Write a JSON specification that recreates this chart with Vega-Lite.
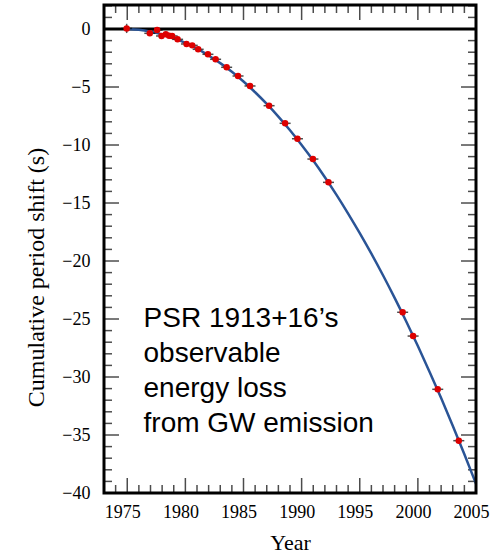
{
  "$schema": "https://vega.github.io/schema/vega-lite/v6.json",
  "width": 372,
  "height": 488,
  "autosize": {"type": "none"},
  "padding": {"left": 104, "top": 5, "right": 24, "bottom": 62},
  "background": "white",
  "config": {
    "view": {"stroke": null},
    "axis": {
      "domain": false,
      "grid": false,
      "ticks": false,
      "labelFont": "Liberation Serif",
      "labelFontSize": 18,
      "labelColor": "black",
      "labelFlush": false,
      "labelOverlap": false,
      "titleFont": "Liberation Serif",
      "titleFontWeight": "normal",
      "titleColor": "black"
    }
  },
  "datasets": {
    "pts": [
      {"year": 1974.95, "shift": 0.05, "hi": 0.45, "lo": -0.35},
      {"year": 1976.94, "shift": -0.37},
      {"year": 1977.57, "shift": -0.09},
      {"year": 1977.95, "shift": -0.6},
      {"year": 1978.32, "shift": -0.46},
      {"year": 1978.6, "shift": -0.58},
      {"year": 1978.86, "shift": -0.6},
      {"year": 1979.33, "shift": -0.89},
      {"year": 1980.1, "shift": -1.29},
      {"year": 1980.59, "shift": -1.41},
      {"year": 1981.1, "shift": -1.75},
      {"year": 1981.94, "shift": -2.18},
      {"year": 1982.6, "shift": -2.61},
      {"year": 1983.55, "shift": -3.3},
      {"year": 1984.53, "shift": -4.05},
      {"year": 1985.56, "shift": -4.91},
      {"year": 1987.2, "shift": -6.61},
      {"year": 1988.58, "shift": -8.13},
      {"year": 1989.64, "shift": -9.46},
      {"year": 1990.97, "shift": -11.21},
      {"year": 1992.31, "shift": -13.22},
      {"year": 1998.69, "shift": -24.42},
      {"year": 1999.59, "shift": -26.47},
      {"year": 2001.71, "shift": -31.06},
      {"year": 2003.52, "shift": -35.49}
    ],
    "curve": [
      {"year": 1975, "shift": 0.0},
      {"year": 1976, "shift": -0.07},
      {"year": 1977, "shift": -0.23},
      {"year": 1978, "shift": -0.46},
      {"year": 1979, "shift": -0.79},
      {"year": 1980, "shift": -1.2},
      {"year": 1981, "shift": -1.69},
      {"year": 1982, "shift": -2.28},
      {"year": 1983, "shift": -2.94},
      {"year": 1984, "shift": -3.69},
      {"year": 1985, "shift": -4.53},
      {"year": 1986, "shift": -5.45},
      {"year": 1987, "shift": -6.46},
      {"year": 1988, "shift": -7.55},
      {"year": 1989, "shift": -8.73},
      {"year": 1990, "shift": -10.0},
      {"year": 1991, "shift": -11.34},
      {"year": 1992, "shift": -12.78},
      {"year": 1993, "shift": -14.3},
      {"year": 1994, "shift": -15.91},
      {"year": 1995, "shift": -17.6},
      {"year": 1996, "shift": -19.37},
      {"year": 1997, "shift": -21.23},
      {"year": 1998, "shift": -23.18},
      {"year": 1999, "shift": -25.21},
      {"year": 2000, "shift": -27.33},
      {"year": 2001, "shift": -29.54},
      {"year": 2002, "shift": -31.82},
      {"year": 2003, "shift": -34.2},
      {"year": 2004, "shift": -36.66},
      {"year": 2005, "shift": -39.2}
    ],
    "notes": [
      {"year": 1976.4, "shift": -25.7, "label": "PSR 1913+16’s"},
      {"year": 1976.4, "shift": -28.7, "label": "observable"},
      {"year": 1976.4, "shift": -31.7, "label": "energy loss"},
      {"year": 1976.4, "shift": -34.7, "label": "from GW emission"}
    ],
    "frame": [
      {"panel": "p", "x0": 1973, "x1": 2005, "y0": -40, "y1": 2.07, "zero": 0}
    ],
    "xt": [
      {"panel": "p", "year": 1973, "kind": "minor"}, {"panel": "p", "year": 1974, "kind": "minor"}, {"panel": "p", "year": 1975, "kind": "major"},
      {"panel": "p", "year": 1976, "kind": "minor"}, {"panel": "p", "year": 1977, "kind": "minor"}, {"panel": "p", "year": 1978, "kind": "minor"}, {"panel": "p", "year": 1979, "kind": "minor"}, {"panel": "p", "year": 1980, "kind": "major"},
      {"panel": "p", "year": 1981, "kind": "minor"}, {"panel": "p", "year": 1982, "kind": "minor"}, {"panel": "p", "year": 1983, "kind": "minor"}, {"panel": "p", "year": 1984, "kind": "minor"}, {"panel": "p", "year": 1985, "kind": "major"},
      {"panel": "p", "year": 1986, "kind": "minor"}, {"panel": "p", "year": 1987, "kind": "minor"}, {"panel": "p", "year": 1988, "kind": "minor"}, {"panel": "p", "year": 1989, "kind": "minor"}, {"panel": "p", "year": 1990, "kind": "major"},
      {"panel": "p", "year": 1991, "kind": "minor"}, {"panel": "p", "year": 1992, "kind": "minor"}, {"panel": "p", "year": 1993, "kind": "minor"}, {"panel": "p", "year": 1994, "kind": "minor"}, {"panel": "p", "year": 1995, "kind": "major"},
      {"panel": "p", "year": 1996, "kind": "minor"}, {"panel": "p", "year": 1997, "kind": "minor"}, {"panel": "p", "year": 1998, "kind": "minor"}, {"panel": "p", "year": 1999, "kind": "minor"}, {"panel": "p", "year": 2000, "kind": "major"},
      {"panel": "p", "year": 2001, "kind": "minor"}, {"panel": "p", "year": 2002, "kind": "minor"}, {"panel": "p", "year": 2003, "kind": "minor"}, {"panel": "p", "year": 2004, "kind": "minor"}, {"panel": "p", "year": 2005, "kind": "major"}
    ],
    "yt": [
      {"panel": "p", "shift": 2, "kind": "minor"}, {"panel": "p", "shift": 1, "kind": "minor"}, {"panel": "p", "shift": 0, "kind": "major"},
      {"panel": "p", "shift": -1, "kind": "minor"}, {"panel": "p", "shift": -2, "kind": "minor"}, {"panel": "p", "shift": -3, "kind": "minor"}, {"panel": "p", "shift": -4, "kind": "minor"}, {"panel": "p", "shift": -5, "kind": "major"},
      {"panel": "p", "shift": -6, "kind": "minor"}, {"panel": "p", "shift": -7, "kind": "minor"}, {"panel": "p", "shift": -8, "kind": "minor"}, {"panel": "p", "shift": -9, "kind": "minor"}, {"panel": "p", "shift": -10, "kind": "major"},
      {"panel": "p", "shift": -11, "kind": "minor"}, {"panel": "p", "shift": -12, "kind": "minor"}, {"panel": "p", "shift": -13, "kind": "minor"}, {"panel": "p", "shift": -14, "kind": "minor"}, {"panel": "p", "shift": -15, "kind": "major"},
      {"panel": "p", "shift": -16, "kind": "minor"}, {"panel": "p", "shift": -17, "kind": "minor"}, {"panel": "p", "shift": -18, "kind": "minor"}, {"panel": "p", "shift": -19, "kind": "minor"}, {"panel": "p", "shift": -20, "kind": "major"},
      {"panel": "p", "shift": -21, "kind": "minor"}, {"panel": "p", "shift": -22, "kind": "minor"}, {"panel": "p", "shift": -23, "kind": "minor"}, {"panel": "p", "shift": -24, "kind": "minor"}, {"panel": "p", "shift": -25, "kind": "major"},
      {"panel": "p", "shift": -26, "kind": "minor"}, {"panel": "p", "shift": -27, "kind": "minor"}, {"panel": "p", "shift": -28, "kind": "minor"}, {"panel": "p", "shift": -29, "kind": "minor"}, {"panel": "p", "shift": -30, "kind": "major"},
      {"panel": "p", "shift": -31, "kind": "minor"}, {"panel": "p", "shift": -32, "kind": "minor"}, {"panel": "p", "shift": -33, "kind": "minor"}, {"panel": "p", "shift": -34, "kind": "minor"}, {"panel": "p", "shift": -35, "kind": "major"},
      {"panel": "p", "shift": -36, "kind": "minor"}, {"panel": "p", "shift": -37, "kind": "minor"}, {"panel": "p", "shift": -38, "kind": "minor"}, {"panel": "p", "shift": -39, "kind": "minor"}, {"panel": "p", "shift": -40, "kind": "major"}
    ]
  },
  "layer": [
    {
      "data": {"name": "frame"},
      "mark": {"type": "rule", "color": "black", "strokeWidth": 3},
      "encoding": {
        "x": {"field": "x0", "type": "quantitative", "scale": {"domain": [1973, 2005], "nice": false, "zero": false}, "axis": null},
        "x2": {"field": "x1"},
        "y": {"field": "zero", "type": "quantitative", "scale": {"domain": [-40, 2.07], "nice": false, "zero": false}, "axis": null}
      }
    },
    {
      "data": {"name": "xt"},
      "transform": [
        {"filter": "datum.kind === 'major'"},
        {"lookup": "panel", "from": {"data": {"name": "frame"}, "key": "panel", "fields": ["y0", "y1"]}}
      ],
      "layer": [
        {
          "mark": {"type": "tick", "orient": "vertical", "color": "black", "thickness": 1.5, "size": 15, "yOffset": -7.5},
          "encoding": {
            "x": {"field": "year", "type": "quantitative", "scale": {"domain": [1973, 2005], "nice": false, "zero": false}, "axis": null},
            "y": {"field": "y0", "type": "quantitative", "scale": {"domain": [-40, 2.07], "nice": false, "zero": false}, "axis": null}
          }
        },
        {
          "mark": {"type": "tick", "orient": "vertical", "color": "black", "thickness": 1.5, "size": 15, "yOffset": 7.5},
          "encoding": {
            "x": {"field": "year", "type": "quantitative", "scale": {"domain": [1973, 2005], "nice": false, "zero": false}, "axis": null},
            "y": {"field": "y1", "type": "quantitative", "scale": {"domain": [-40, 2.07], "nice": false, "zero": false}, "axis": null}
          }
        }
      ]
    },
    {
      "data": {"name": "xt"},
      "transform": [
        {"filter": "datum.kind === 'minor'"},
        {"lookup": "panel", "from": {"data": {"name": "frame"}, "key": "panel", "fields": ["y0", "y1"]}}
      ],
      "layer": [
        {
          "mark": {"type": "tick", "orient": "vertical", "color": "black", "thickness": 1.5, "size": 8, "yOffset": -4},
          "encoding": {
            "x": {"field": "year", "type": "quantitative", "scale": {"domain": [1973, 2005], "nice": false, "zero": false}, "axis": null},
            "y": {"field": "y0", "type": "quantitative", "scale": {"domain": [-40, 2.07], "nice": false, "zero": false}, "axis": null}
          }
        },
        {
          "mark": {"type": "tick", "orient": "vertical", "color": "black", "thickness": 1.5, "size": 8, "yOffset": 4},
          "encoding": {
            "x": {"field": "year", "type": "quantitative", "scale": {"domain": [1973, 2005], "nice": false, "zero": false}, "axis": null},
            "y": {"field": "y1", "type": "quantitative", "scale": {"domain": [-40, 2.07], "nice": false, "zero": false}, "axis": null}
          }
        }
      ]
    },
    {
      "data": {"name": "yt"},
      "transform": [
        {"filter": "datum.kind === 'major'"},
        {"lookup": "panel", "from": {"data": {"name": "frame"}, "key": "panel", "fields": ["x0", "x1"]}}
      ],
      "layer": [
        {
          "mark": {"type": "tick", "orient": "horizontal", "color": "black", "thickness": 1.5, "size": 15, "xOffset": 7.5},
          "encoding": {
            "y": {"field": "shift", "type": "quantitative", "scale": {"domain": [-40, 2.07], "nice": false, "zero": false}, "axis": null},
            "x": {"field": "x0", "type": "quantitative", "scale": {"domain": [1973, 2005], "nice": false, "zero": false}, "axis": null}
          }
        },
        {
          "mark": {"type": "tick", "orient": "horizontal", "color": "black", "thickness": 1.5, "size": 15, "xOffset": -7.5},
          "encoding": {
            "y": {"field": "shift", "type": "quantitative", "scale": {"domain": [-40, 2.07], "nice": false, "zero": false}, "axis": null},
            "x": {"field": "x1", "type": "quantitative", "scale": {"domain": [1973, 2005], "nice": false, "zero": false}, "axis": null}
          }
        }
      ]
    },
    {
      "data": {"name": "yt"},
      "transform": [
        {"filter": "datum.kind === 'minor'"},
        {"lookup": "panel", "from": {"data": {"name": "frame"}, "key": "panel", "fields": ["x0", "x1"]}}
      ],
      "layer": [
        {
          "mark": {"type": "tick", "orient": "horizontal", "color": "black", "thickness": 1.5, "size": 8, "xOffset": 4},
          "encoding": {
            "y": {"field": "shift", "type": "quantitative", "scale": {"domain": [-40, 2.07], "nice": false, "zero": false}, "axis": null},
            "x": {"field": "x0", "type": "quantitative", "scale": {"domain": [1973, 2005], "nice": false, "zero": false}, "axis": null}
          }
        },
        {
          "mark": {"type": "tick", "orient": "horizontal", "color": "black", "thickness": 1.5, "size": 8, "xOffset": -4},
          "encoding": {
            "y": {"field": "shift", "type": "quantitative", "scale": {"domain": [-40, 2.07], "nice": false, "zero": false}, "axis": null},
            "x": {"field": "x1", "type": "quantitative", "scale": {"domain": [1973, 2005], "nice": false, "zero": false}, "axis": null}
          }
        }
      ]
    },
    {
      "data": {"name": "curve"},
      "mark": {"type": "line", "color": "#2a5496", "strokeWidth": 2.5, "interpolate": "monotone"},
      "encoding": {
        "x": {"field": "year", "type": "quantitative", "scale": {"domain": [1973, 2005], "nice": false, "zero": false},
          "axis": {"orient": "bottom", "values": [1975, 1980, 1985, 1990, 1995, 2000, 2005], "format": "d", "ticks": false, "tickSize": 0, "labelPadding": 10, "labelOffset": -5, "title": "Year", "titleFontSize": 22, "titlePadding": 11}},
        "y": {"field": "shift", "type": "quantitative", "scale": {"domain": [-40, 2.07], "nice": false, "zero": false},
          "axis": {"orient": "left", "values": [0, -5, -10, -15, -20, -25, -30, -35, -40], "format": "d", "ticks": false, "tickSize": 0, "labelPadding": 14, "title": "Cumulative period shift (s)", "titleFontSize": 24, "titleY": 272, "titlePadding": 13}}
      }
    },
    {
      "data": {"name": "pts"},
      "mark": {"type": "tick", "orient": "horizontal", "color": "black", "size": 11, "thickness": 1.5},
      "encoding": {
        "x": {"field": "year", "type": "quantitative", "scale": {"domain": [1973, 2005], "nice": false, "zero": false}, "axis": null},
        "y": {"field": "shift", "type": "quantitative", "scale": {"domain": [-40, 2.07], "nice": false, "zero": false}, "axis": null}
      }
    },
    {
      "data": {"name": "pts"},
      "transform": [{"filter": "isValid(datum.hi)"}],
      "mark": {"type": "rule", "color": "#555555", "strokeWidth": 1.5},
      "encoding": {
        "x": {"field": "year", "type": "quantitative", "scale": {"domain": [1973, 2005], "nice": false, "zero": false}, "axis": null},
        "y": {"field": "hi", "type": "quantitative", "scale": {"domain": [-40, 2.07], "nice": false, "zero": false}, "axis": null},
        "y2": {"field": "lo"}
      }
    },
    {
      "data": {"name": "pts"},
      "mark": {"type": "circle", "color": "#dd0000", "opacity": 1, "size": 42},
      "encoding": {
        "x": {"field": "year", "type": "quantitative", "scale": {"domain": [1973, 2005], "nice": false, "zero": false}, "axis": null},
        "y": {"field": "shift", "type": "quantitative", "scale": {"domain": [-40, 2.07], "nice": false, "zero": false}, "axis": null}
      }
    },
    {
      "data": {"name": "notes"},
      "mark": {"type": "text", "font": "Liberation Sans", "fontSize": 28, "align": "left", "baseline": "alphabetic", "color": "black"},
      "encoding": {
        "x": {"field": "year", "type": "quantitative", "scale": {"domain": [1973, 2005], "nice": false, "zero": false}, "axis": null},
        "y": {"field": "shift", "type": "quantitative", "scale": {"domain": [-40, 2.07], "nice": false, "zero": false}, "axis": null},
        "text": {"field": "label", "type": "nominal"}
      }
    },
    {
      "data": {"name": "frame"},
      "mark": {"type": "rect", "fill": null, "fillOpacity": 0, "stroke": "black", "strokeWidth": 3},
      "encoding": {
        "x": {"field": "x0", "type": "quantitative", "scale": {"domain": [1973, 2005], "nice": false, "zero": false}, "axis": null},
        "x2": {"field": "x1"},
        "y": {"field": "y0", "type": "quantitative", "scale": {"domain": [-40, 2.07], "nice": false, "zero": false}, "axis": null},
        "y2": {"field": "y1"}
      }
    }
  ],
  "resolve": {
    "scale": {"x": "shared", "y": "shared"},
    "axis": {"x": "independent", "y": "independent"}
  }
}
